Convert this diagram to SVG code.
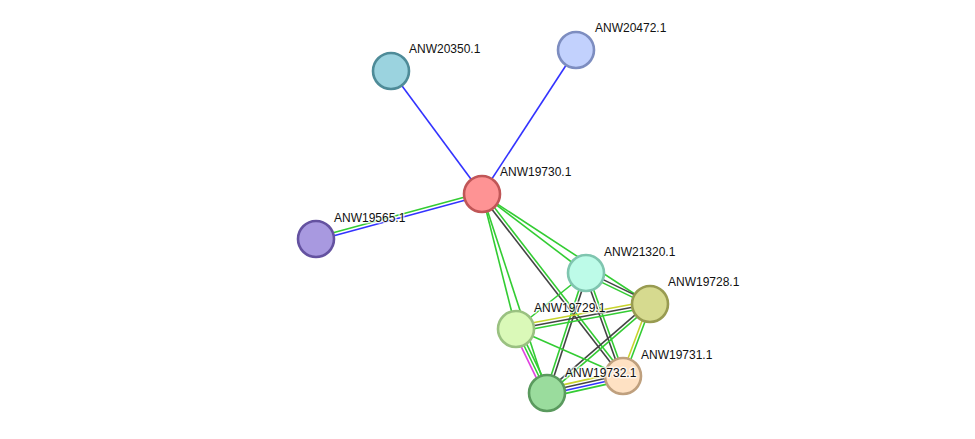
<svg xmlns="http://www.w3.org/2000/svg" width="975" height="439" viewBox="0 0 975 439">
<style>
.e line{stroke-width:1.6;fill:none}
.g{stroke:#33cc33}
.k{stroke:#444444}
.b{stroke:#3333ff}
.y{stroke:#c8d42c}
.m{stroke:#e040e0}
.n circle{stroke-width:2.6}
text{font-family:"Liberation Sans",Arial,sans-serif;font-size:12px;fill:#111;stroke:#fff;stroke-width:3px;stroke-opacity:0.7;paint-order:stroke;stroke-linejoin:round}
</style>
<rect width="975" height="439" fill="#fff"/>
<g id="edges" class="e">
<line class="b" x1="482" y1="194" x2="391" y2="71"/>
<line class="b" x1="482" y1="194" x2="576" y2="50"/>
<line class="g" x1="481.6" y1="192.5" x2="315.6" y2="237.5"/>
<line class="b" x1="482.4" y1="195.5" x2="316.4" y2="240.5"/>
<line class="g" x1="482" y1="194" x2="516" y2="329"/>
<line class="g" x1="482" y1="194" x2="547" y2="393"/>
<line class="k" x1="480.8" y1="194.9" x2="621.8" y2="376.9"/>
<line class="g" x1="483.2" y1="193.1" x2="624.2" y2="375.1"/>
<line class="g" x1="482" y1="194" x2="586" y2="273"/>
<line class="g" x1="482" y1="194" x2="650" y2="304"/>
<line class="k" x1="586.65" y1="271.65" x2="650.65" y2="302.65"/>
<line class="g" x1="585.35" y1="274.35" x2="649.35" y2="305.35"/>
<line class="g" x1="586" y1="273" x2="516" y2="329"/>
<line class="g" x1="584.6" y1="272.5" x2="545.6" y2="392.5"/>
<line class="k" x1="587.4" y1="273.5" x2="548.4" y2="393.5"/>
<line class="k" x1="584.6" y1="273.5" x2="621.6" y2="376.5"/>
<line class="g" x1="587.4" y1="272.5" x2="624.4" y2="375.5"/>
<line class="y" x1="649.45" y1="301.05" x2="515.45" y2="326.05"/>
<line class="k" x1="650" y1="304" x2="516" y2="329"/>
<line class="g" x1="650.55" y1="306.95" x2="516.55" y2="331.95"/>
<line class="k" x1="649" y1="302.9" x2="546" y2="391.9"/>
<line class="g" x1="651" y1="305.1" x2="548" y2="394.1"/>
<line class="y" x1="648.6" y1="303.5" x2="621.6" y2="375.5"/>
<line class="g" x1="651.4" y1="304.5" x2="624.4" y2="376.5"/>
<line class="m" x1="513.3" y1="330.3" x2="544.3" y2="394.3"/>
<line class="g" x1="516" y1="329" x2="547" y2="393"/>
<line class="g" x1="518.7" y1="327.7" x2="549.7" y2="391.7"/>
<line class="g" x1="516" y1="329" x2="623" y2="376"/>
<line class="y" x1="546" y1="388.6" x2="622" y2="371.6"/>
<line class="k" x1="546.7" y1="391.5" x2="622.7" y2="374.5"/>
<line class="b" x1="547.3" y1="394.5" x2="623.3" y2="377.5"/>
<line class="g" x1="548" y1="397.4" x2="624" y2="380.4"/>
</g>
<g id="ANW20350.1" class="n"><circle cx="391" cy="71" r="18" fill="#9bd3df" stroke="#4e8b98"/><text x="409" y="53">ANW20350.1</text></g>
<g id="ANW20472.1" class="n"><circle cx="576" cy="50" r="18" fill="#c2d1fd" stroke="#7d8dc0"/><text x="595" y="32">ANW20472.1</text></g>
<g id="ANW19730.1" class="n"><circle cx="482" cy="194" r="18" fill="#fe9394" stroke="#c05657"/><text x="500" y="176">ANW19730.1</text></g>
<g id="ANW19565.1" class="n"><circle cx="316" cy="239" r="18" fill="#a899e0" stroke="#6452a0"/><text x="334" y="222">ANW19565.1</text></g>
<g id="ANW21320.1" class="n"><circle cx="586" cy="273" r="18" fill="#bdfbe8" stroke="#7fc5af"/><text x="604" y="256">ANW21320.1</text></g>
<g id="ANW19728.1" class="n"><circle cx="650" cy="304" r="18" fill="#d6da8f" stroke="#989b51"/><text x="668" y="286">ANW19728.1</text></g>
<g id="ANW19729.1" class="n"><circle cx="516" cy="329" r="18" fill="#daf9b8" stroke="#9ac181"/><text x="534" y="312">ANW19729.1</text></g>
<g id="ANW19731.1" class="n"><circle cx="623" cy="376" r="18" fill="#fee1c3" stroke="#bfa07e"/><text x="641" y="359">ANW19731.1</text></g>
<g id="ANW19732.1" class="n"><circle cx="547" cy="393" r="18" fill="#9adc9d" stroke="#5a9a5e"/><text x="565" y="377">ANW19732.1</text></g>
</svg>
